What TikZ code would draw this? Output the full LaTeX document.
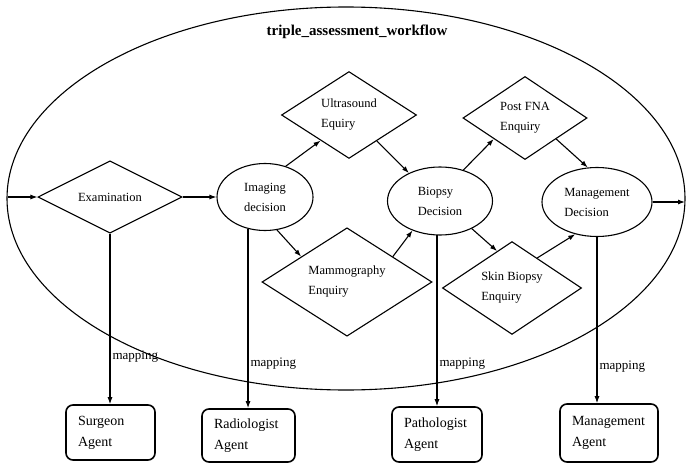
\documentclass[tikz,border=0pt]{standalone}
\usepackage{fontspec}
\setmainfont{Liberation Serif}
\usetikzlibrary{shapes.geometric,arrows.meta}
\begin{document}
\begin{tikzpicture}[x=1pt,y=-1pt,line width=1.1pt,
	dia/.style={draw,diamond,inner sep=0pt,align=left,font=\fontsize{12.5}{20}\selectfont},
	oval/.style={draw,ellipse,inner sep=0pt,align=left,font=\fontsize{12.5}{20}\selectfont},
	agent/.style={draw,rounded corners=7pt,line width=1.6pt,inner xsep=12pt,inner ysep=0pt,align=left,font=\fontsize{14}{21}\selectfont},
	flow/.style={-{Latex[length=7pt,width=5pt]}},
	maplabel/.style={anchor=west,inner sep=2pt,font=\fontsize{13}{15}\selectfont}]
			\useasboundingbox (0,0) rectangle (686,463);
			% workflow boundary
			\draw (346,198.5) ellipse [x radius=339pt, y radius=191.5pt];
			\node[font=\bfseries\fontsize{15}{18}\selectfont] (title) at (357,32) {triple\_assessment\_workflow};
			% workflow steps
			\node[dia, minimum width=144pt, minimum height=69pt] (exam) at (110,197) {Examination};
			\node[oval, minimum width=96pt, minimum height=67pt] (img) at (265,197) {Imaging\\decision};
			\node[dia, minimum width=135pt, minimum height=85pt] (us) at (349,115) {Ultrasound\\Equiry};
			\node[dia, minimum width=170pt, minimum height=81pt] (mam) at (347,282) {Mammography\\Enquiry};
			\node[oval, minimum width=105pt, minimum height=68pt] (bio) at (440,201) {Biopsy\\Decision};
			\node[dia, minimum width=124pt, minimum height=83pt] (pfna) at (525,118) {Post FNA\\Enquiry};
			\node[dia, minimum width=139pt, minimum height=83pt] (skin) at (512,288) {Skin Biopsy\\Enquiry};
			\node[oval, minimum width=110pt, minimum height=69pt] (mgd) at (597,202) {Management\\Decision};
			% agents
			\node[agent, text width=65pt, minimum height=55pt] (surg) at (110.5,432.5) {Surgeon\\Agent};
			\node[agent, text width=69pt, minimum height=53pt] (rad) at (248.5,435.5) {Radiologist\\Agent};
			\node[agent, text width=66pt, minimum height=55pt] (patho) at (437,434.5) {Pathologist\\Agent};
			\node[agent, text width=74pt, minimum height=58pt] (mga) at (609,433) {Management\\Agent};
			\coordinate (in) at (8,197);
			\coordinate (out) at (685,0);
			% flow
			\draw[flow] (in) -- (exam);
			\draw[flow] (exam) -- (img);
			\draw[flow] (img.56) -- (us.-138);
			\draw[flow] (us.-43) -- (bio.138);
			\draw[flow] (img.-70) -- (mam.151);
			\draw[flow] (mam.29) -- (bio.-133);
			\draw[flow] (bio.53) -- (pfna.-146);
			\draw[flow] (pfna.-34) -- (mgd.105);
			\draw[flow] (bio.-41) -- (skin.112);
			\draw[flow] (skin.50) -- (mgd.-124);
			\draw[flow] (mgd.east) -- (mgd.east -| out);
			% mappings
			\draw[flow] (exam.south) -- (exam.south |- surg.north) node[maplabel, pos=0.72] {mapping};
			\draw[flow] (img.-118) -- (img.-118 |- rad.north) node[maplabel, pos=0.75] {mapping};
			\draw[flow] (bio.-95) -- (bio.-95 |- patho.north) node[maplabel, pos=0.75] {mapping};
			\draw[flow] (mgd.south) -- (mgd.south |- mga.north) node[maplabel, pos=0.78] {mapping};
\end{tikzpicture}
\end{document}
